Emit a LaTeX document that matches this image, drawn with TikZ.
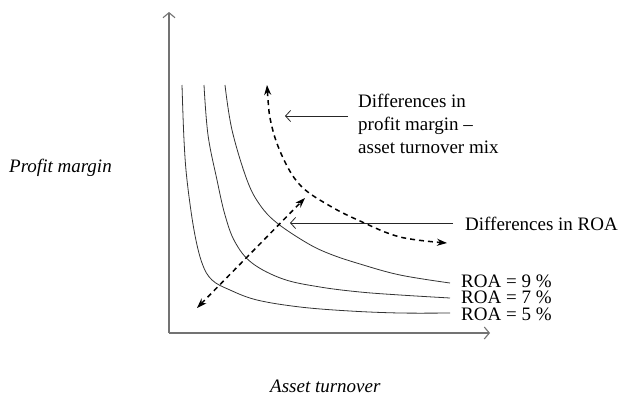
\documentclass[tikz,border=0pt]{standalone}
\usepackage{fontspec}
\setmainfont{Liberation Serif}
\usetikzlibrary{arrows.meta}
\begin{document}
\begin{tikzpicture}[x=1pt,y=-1pt,
  txt/.style={anchor=base west,inner sep=0pt,font=\fontsize{19}{23}\selectfont},
  roatxt/.style={txt,text height=13pt,text depth=0pt},
  axis/.style={draw=black!55,line width=1.1pt,-{Straight Barb[length=5,width=12]}},
  roa/.style={draw=black!80,line width=0.8pt},
  mix/.style={draw=black,line width=1.5pt,dash pattern=on 5pt off 4pt,
    {Stealth[length=10,width=7]}-{Stealth[length=10,width=7]}},
  pointer/.style={draw=black!85,line width=0.8pt,-{Straight Barb[length=5,width=11]}}]
\useasboundingbox (0,0) rectangle (623,399);

% axes
\coordinate (origin) at (169,333);
\coordinate (ytop) at (169,12);
\coordinate (xend) at (490,333);
\draw[axis] (origin) -- (ytop);
\draw[axis] (origin) -- (xend);

% iso-ROA curves
\draw[roa] plot[smooth,tension=0.6] coordinates {(182,85) (184,140) (187,180) (194,230) (202,263) (212,280) (230,290) (257,300) (300,307) (350,311) (400,313) (450,313)};
\draw[roa] plot[smooth,tension=0.6] coordinates {(204,85) (208,135) (217,180) (225,215) (235,242) (252,263) (283,279) (320,287) (360,292) (400,295) (450,298)};
\draw[roa] plot[smooth,tension=0.6] coordinates {(225,85) (232,130) (247,180) (260,205) (277,223) (307,243) (330,254) (360,264) (400,275) (450,283)};

% curve labels
\node[roatxt] (r9) at (461,287) {ROA = 9 \%};
\node[roatxt] (r7) at (461,303.5) {ROA = 7 \%};
\node[roatxt] (r5) at (461,320) {ROA = 5 \%};

% dashed arrows
\draw[mix] (197,308) -- (305,198);
\draw[mix] plot[smooth,tension=0.6] coordinates {(267,85) (272,127) (285,162) (302,187) (330,206) (360,221) (400,237) (447,243)};

% explanatory labels
\node[txt] (d1) at (358,107) {Differences in};
\node[txt] (d2) at (358,130) {profit margin --};
\node[txt] (d3) at (358,153) {asset turnover mix};
\node[txt] (droa) at (465,230) {Differences in ROA};
\coordinate (p1) at (285,116);
\coordinate (p2) at (290,223);
\draw[pointer] (d2.west |- 0,116) ++(-10,0) -- (p1);
\draw[pointer] (droa.west |- 0,223) ++(-12,0) -- (p2);

% axis titles
\node[txt,font=\fontsize{19}{23}\selectfont\itshape] (ylab) at (9,172) {Profit margin};
\node[txt,font=\fontsize{19}{23}\selectfont\itshape] (xlab) at (270,392) {Asset turnover};
\end{tikzpicture}
\end{document}
